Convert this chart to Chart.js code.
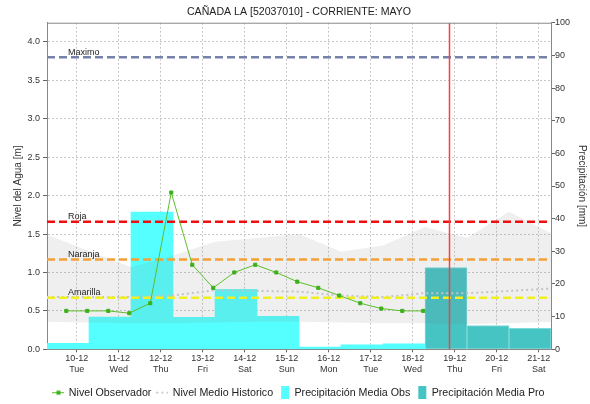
<!DOCTYPE html>
<html>
<head>
<meta charset="utf-8">
<script src="https://cdn.jsdelivr.net/npm/chart.js@4/dist/chart.umd.min.js"></script>
<style>
  html, body { margin: 0; padding: 0; background: #fff; }
</style>
</head>
<body>
<canvas id="nivel-chart" width="590" height="404"></canvas>
<script>
// fechas del eje (ticks a las 00:00 de cada dia)
const fechas = ['10-12', '11-12', '12-12', '13-12', '14-12', '15-12', '16-12', '17-12', '18-12', '19-12', '20-12', '21-12'];
const diasSemana = ['Tue', 'Wed', 'Thu', 'Fri', 'Sat', 'Sun', 'Mon', 'Tue', 'Wed', 'Thu', 'Fri', 'Sat'];

// nivel observado [m], cada 12 h desde 09-12 18:00
const nivelObservado = [0.50, 0.50, 0.50, 0.47, 0.60, 2.04, 1.10, 0.80, 1.00, 1.10, 1.00, 0.88, 0.80, 0.70, 0.60, 0.53, 0.50, 0.50];
// valores diarios a las 07:00, desde 09-12
const nivelHistorico = [0.68, 0.68, 0.68, 0.70, 0.77, 0.76, 0.75, 0.70, 0.68, 0.73, 0.73, 0.76, 0.79];
const historicoMax = [1.49, 1.28, 1.07, 1.22, 1.40, 1.45, 1.50, 1.27, 1.35, 1.59, 1.45, 1.79, 1.51];
const historicoMin = [0.36, 0.35, 0.34, 0.34, 0.35, 0.36, 0.36, 0.35, 0.34, 0.34, 0.33, 0.34, 0.36];
// precipitacion diaria [mm] (07:00 a 07:00)
const precipObs = [1.8, 9.9, 42.0, 9.8, 18.4, 10.1, 0.7, 1.4, 1.7];
const precipPro = [25.0, 7.3, 6.4];
// umbrales [m]
const umbrales = [3.8, 1.66, 1.17, 0.67];
const umbralNombres = ['Maximo', 'Roja', 'Naranja', 'Amarilla'];

// tiempos en horas desde 10-12 00:00
const horaInicio = -17;       // 09-12 07:00
const horaInicioObs = -6;     // 09-12 18:00
const horaActual = 213;
const horaFin = horaInicio + 24 * fechas.length;
const nivelMax = 4.25;

const fuente = '"Liberation Sans", Arial, sans-serif';
const colorUmbral = ['#7682a8', '#ee1010', '#f5a035', '#f0f020'];

function icono(tipo) {
  const c = document.createElement('canvas');
  c.width = 12; c.height = 13;
  const g = c.getContext('2d');
  if (tipo === 'obs') {
    g.strokeStyle = '#5cbf2a'; g.lineWidth = 1;
    g.beginPath(); g.moveTo(0, 6.5); g.lineTo(12, 6.5); g.stroke();
    g.fillStyle = '#3cb01a'; g.fillRect(4, 4.5, 4, 4);
  } else if (tipo === 'hist') {
    g.strokeStyle = '#c4c4c4'; g.lineWidth = 1.5; g.setLineDash([2, 3]);
    g.beginPath(); g.moveTo(0, 6.5); g.lineTo(12, 6.5); g.stroke();
  } else {
    g.fillStyle = tipo;
    g.fillRect(3, 0, 8, 13);
  }
  return c;
}
const iconos = [icono('obs'), icono('hist'), icono('#55ffff'), icono('#46c3c3')];

const etiquetasUmbral = {
  id: 'etiquetasUmbral',
  afterDatasetsDraw(chart) {
    const { ctx, chartArea, scales } = chart;
    ctx.save();
    ctx.font = '9px ' + fuente;
    ctx.fillStyle = '#222';
    ctx.textBaseline = 'alphabetic';
    umbrales.forEach((v, i) => {
      ctx.fillText(umbralNombres[i], chartArea.left + 21, scales.y.getPixelForValue(v) - 2.5);
    });
    ctx.restore();
  }
};

const marco = {
  id: 'marco',
  afterDraw(chart) {
    const { ctx, chartArea } = chart;
    ctx.save();
    ctx.strokeStyle = '#888';
    ctx.lineWidth = 1;
    ctx.beginPath();
    ctx.moveTo(chartArea.left, chartArea.top + 0.5);
    ctx.lineTo(chartArea.right, chartArea.top + 0.5);
    ctx.stroke();
    ctx.restore();
  }
};

const lineaUmbral = (v, i) => ({
  type: 'line',
  label: umbralNombres[i],
  data: [{ x: horaInicio, y: v }, { x: horaFin, y: v }],
  borderColor: colorUmbral[i],
  borderWidth: 2.5,
  borderDash: [8, 4],
  pointRadius: 0,
  order: 6
});

new Chart(document.getElementById('nivel-chart'), {
  type: 'line',
  data: {
    datasets: [
      {
        label: 'Nivel Observador',
        data: nivelObservado.map((v, i) => ({ x: horaInicioObs + 12 * i, y: v })),
        borderColor: '#5cbf2a',
        borderWidth: 1,
        pointStyle: 'rect',
        pointRadius: 2.2,
        pointBackgroundColor: '#3cb01a',
        pointBorderColor: '#3cb01a',
        order: 1
      },
      {
        label: 'Nivel Medio Historico',
        data: nivelHistorico.map((v, i) => ({ x: horaInicio + 24 * i, y: v })),
        borderColor: '#c4c4c4',
        borderWidth: 2,
        borderDash: [2, 3],
        pointRadius: 0,
        order: 7
      },
      {
        type: 'bar',
        label: 'Precipitación Media Obs',
        data: precipObs.map((v, i) => ({ x: horaInicio + 12 + 24 * i, y: v })),
        yAxisID: 'y2',
        backgroundColor: '#55ffff',
        barPercentage: 1,
        categoryPercentage: 1,
        grouped: false,
        order: 10
      },
      {
        type: 'bar',
        label: 'Precipitación Media Pro',
        data: precipPro.map((v, i) => ({ x: horaInicio + 12 + 24 * (precipObs.length + i), y: v })),
        yAxisID: 'y2',
        backgroundColor: '#46c3c3',
        borderColor: '#7fdada',
        borderWidth: 1,
        barPercentage: 1,
        categoryPercentage: 1,
        grouped: false,
        order: 10
      },
      {
        label: 'max',
        data: historicoMax.map((v, i) => ({ x: horaInicio + 24 * i, y: v })),
        borderWidth: 0,
        pointRadius: 0,
        backgroundColor: 'rgba(120,120,120,0.12)',
        fill: '+1',
        order: 8
      },
      {
        label: 'min',
        data: historicoMin.map((v, i) => ({ x: horaInicio + 24 * i, y: v })),
        borderWidth: 0,
        pointRadius: 0,
        order: 8
      },
      ...umbrales.map(lineaUmbral),
      {
        label: 'ahora',
        data: [{ x: horaActual, y: 0 }, { x: horaActual, y: nivelMax }],
        borderColor: 'rgb(255,60,60)',
        borderWidth: 1.5,
        pointRadius: 0,
        order: 3
      }
    ]
  },
  options: {
    responsive: false,
    animation: false,
    layout: { padding: { top: 0, left: 0, right: 0, bottom: -4 } },
    scales: {
      x: {
        type: 'linear',
        offset: false,
        min: horaInicio,
        max: horaFin,
        afterBuildTicks: s => { s.ticks = fechas.map((f, i) => ({ value: 24 * i })); },
        ticks: {
          autoSkip: false,
          maxRotation: 0,
          padding: 1,
          color: '#333',
          font: { family: fuente, size: 9 },
          callback: v => [fechas[Math.round(v / 24)], diasSemana[Math.round(v / 24)]]
        },
        grid: { offset: false, color: '#c8c8c8', tickLength: 3, tickColor: '#666' },
        border: { color: '#888', dash: [2, 2] },
        afterFit: s => { s.height = 32; }
      },
      y: {
        position: 'left',
        min: 0,
        max: nivelMax,
        afterBuildTicks: s => { s.ticks = s.ticks.filter(t => Math.abs(t.value * 2 - Math.round(t.value * 2)) < 1e-6); },
        ticks: {
          stepSize: 0.5,
          padding: 3,
          color: '#333',
          font: { family: fuente, size: 9 },
          callback: v => v.toFixed(1)
        },
        title: {
          display: true,
          text: 'Nivel del Agua [m]',
          color: '#333',
          font: { family: fuente, size: 10 },
          padding: { top: 12, bottom: 0 }
        },
        grid: { color: '#c8c8c8', tickLength: 4, tickColor: '#666' },
        border: { color: '#888', dash: [2, 2] },
        afterFit: s => { s.width = 47; }
      },
      y2: {
        position: 'right',
        min: 0,
        max: 100,
        ticks: {
          stepSize: 10,
          padding: 0,
          color: '#333',
          font: { family: fuente, size: 9 }
        },
        title: {
          display: true,
          text: 'Precipitación [mm]',
          color: '#333',
          font: { family: fuente, size: 10 },
          padding: { top: 2, bottom: 0 }
        },
        grid: { drawOnChartArea: false, tickLength: 4, tickColor: '#666' },
        border: { color: '#888' },
        afterFit: s => { s.width = 39; }
      }
    },
    plugins: {
      title: {
        display: true,
        fullSize: false,
        text: 'CAÑADA LA [52037010] - CORRIENTE: MAYO',
        color: '#222',
        font: { family: fuente, size: 10.6, weight: 'normal' },
        padding: { top: 6, bottom: 4 }
      },
      legend: {
        position: 'bottom',
        fullSize: false,
        labels: {
          usePointStyle: true,
          pointStyleWidth: 10,
          padding: 6,
          color: '#222',
          font: { family: fuente, size: 10.7 },
          filter: item => item.datasetIndex < 4,
          generateLabels: chart => Chart.defaults.plugins.legend.labels.generateLabels(chart).map(item => {
            item.pointStyle = iconos[item.datasetIndex] || item.pointStyle;
            return item;
          })
        }
      },
      tooltip: { enabled: false }
    }
  },
  plugins: [etiquetasUmbral, marco]
});
</script>
</body>
</html>
